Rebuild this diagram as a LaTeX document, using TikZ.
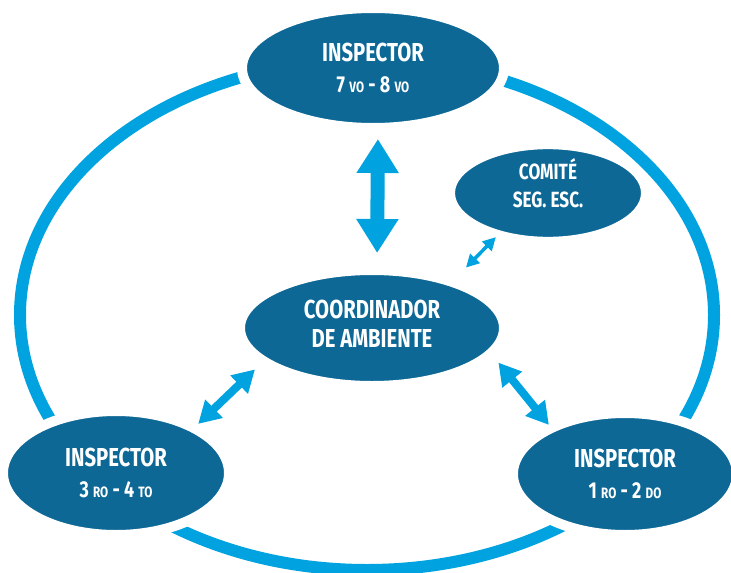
\documentclass[tikz,border=0pt]{standalone}
\usepackage{fontspec}
\setmainfont{Fira Sans}[FakeStretch=0.78]
\usetikzlibrary{arrows.meta, shapes.geometric}

\definecolor{nodeblue}{RGB}{13,104,150}
\definecolor{ringblue}{RGB}{0,163,224}
\newcommand{\ordsuf}[1]{{\fontsize{15}{15}\selectfont #1}}
\newcommand{\lineb}{\fontsize{23}{23}\selectfont}

\begin{document}
\begin{tikzpicture}[x=1pt, y=-1pt,
    role/.style={ellipse, draw=white, line width=10pt, fill=nodeblue, text=white,
      inner sep=0pt, outer sep=0pt, align=center,
      font=\fontsize{26}{29}\selectfont\bfseries},
    bigarrow/.style={ringblue, line width=14pt, {Triangle[length=34pt,width=40pt]}-{Triangle[length=34pt,width=40pt]}},
    midarrow/.style={ringblue, line width=8pt, {Triangle[length=22pt,width=24pt]}-{Triangle[length=22pt,width=24pt]}},
    smallarrow/.style={ringblue, line width=3.5pt, {Triangle[length=13pt,width=13pt]}-{Triangle[length=13pt,width=13pt]}}]
    \useasboundingbox (0,0) rectangle (731,573);
    % outer ring
    \draw[ringblue, line width=12pt] (367,315) ellipse [x radius=347pt, y radius=255pt];

    % roles
    \node[role, minimum width=262pt, minimum height=120pt] (insp78) at (373,68)
        {INSPECTOR\\[2pt] \lineb 7 \ordsuf{VO} - 8 \ordsuf{VO}};
    \node[role, minimum width=264pt, minimum height=116pt, text depth=8pt] (coord) at (372,328)
        {COORDINADOR\\DE AMBIENTE};
    \node[role, minimum width=196pt, minimum height=82pt, text depth=20pt,
          font=\fontsize{22}{28}\selectfont\bfseries] (comite) at (548,193)
        {COMITÉ\\SEG. ESC.};
    \node[role, minimum width=226pt, minimum height=124pt] (insp34) at (116,473)
        {INSPECTOR\\[2pt] \lineb 3 \ordsuf{RO} - 4 \ordsuf{TO}};
    \node[role, minimum width=224pt, minimum height=122pt] (insp12) at (625,474)
        {INSPECTOR\\[2pt] \lineb 1 \ordsuf{RO} - 2 \ordsuf{DO}};

    % links
    \draw[bigarrow, shorten <=11pt, shorten >=17pt] ([xshift=5pt]insp78.south) -- ([xshift=5pt]coord.north);
    \draw[smallarrow, shorten <=20pt, shorten >=3pt] (coord.30) -- (comite.220);
    \draw[midarrow, shorten <=12pt, shorten >=6pt] (coord.197) -- (insp34.30);
    \draw[midarrow, shorten <=12pt, shorten >=4pt] (coord.-12) -- (insp12.148);
\end{tikzpicture}
\end{document}
